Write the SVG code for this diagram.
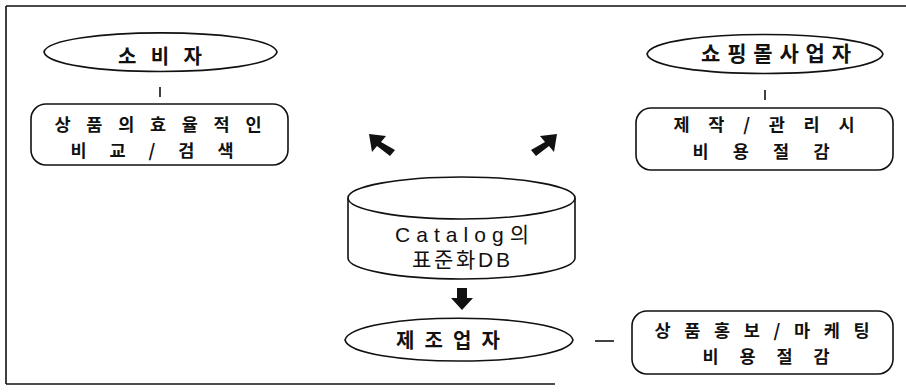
<svg xmlns="http://www.w3.org/2000/svg" width="906" height="392" viewBox="0 0 906 392">
<style>
.s{fill:none;stroke:#111;stroke-width:1.6}
.b{fill:#fff;stroke:#111;stroke-width:1.6}
.t{font-family:"Noto Sans CJK KR","Liberation Sans",sans-serif;font-size:20px;font-weight:bold;fill:#111;text-anchor:middle}
.m{font-size:17.5px}
.l{font-family:"Liberation Sans","Noto Sans CJK KR",sans-serif;font-size:21px;fill:#111;text-anchor:middle}
.f{fill:#111;stroke:none}
</style>
<rect width="906" height="392" fill="#fff"/>
<g id="frame" class="s">
<path d="M6,6 L906,6"/>
<path d="M6,6 L6,384"/>
<path d="M6,384 L555,384"/>
</g>
<g id="consumer">
<path class="b" d="M44,52 C50,27 270,26 277,52 C270,78 50,78 44,52 Z"/>
<text class="t" x="160" y="64" textLength="84" lengthAdjust="spacing">소 비 자</text>
</g>
<g id="consumer-benefit">
<rect class="b" x="31" y="104" width="257" height="61" rx="15"/>
<text class="t m" x="158" y="131" textLength="207" lengthAdjust="spacing">상 품 의 효 율 적 인</text>
<text class="t m" x="152" y="157" textLength="163" lengthAdjust="spacing">비 교 / 검 색</text>
</g>
<g id="mall">
<path class="b" d="M647,54 C653,28 876,28 883,54 C876,80 653,80 647,54 Z"/>
<text class="t" x="776" y="61" textLength="150" lengthAdjust="spacing" style="font-size:21px">쇼핑몰사업자</text>
</g>
<g id="mall-benefit">
<rect class="b" x="636" y="108" width="257" height="62" rx="15"/>
<text class="t m" x="764" y="131" textLength="181" lengthAdjust="spacing">제 작 / 관 리 시</text>
<text class="t m" x="761" y="158" textLength="137" lengthAdjust="spacing">비 용 절 감</text>
</g>
<g id="catalog-db">
<path class="b" d="M348,198 L348,258 A113.5,21 0 0 0 575,258 L575,198 A113.5,21 0 0 0 348,198 Z"/>
<path class="s" d="M348,198 A113.5,21 0 0 0 575,198"/>
<text class="l" x="462" y="242" textLength="134" lengthAdjust="spacing">Catalog의</text>
<text class="l" x="461" y="267" textLength="98" lengthAdjust="spacing">표준화DB</text>
</g>
<g id="maker">
<path class="b" d="M345,340 C352,311 566,311 573,340 C566,368 352,368 345,340 Z"/>
<text class="t" x="448" y="348" textLength="104" lengthAdjust="spacing">제 조 업 자</text>
</g>
<g id="maker-benefit">
<rect class="b" x="632" y="311" width="261" height="63" rx="15"/>
<text class="t m" x="762" y="337" textLength="215" lengthAdjust="spacing">상 품 홍 보 / 마 케 팅</text>
<text class="t m" x="766" y="363" textLength="127" lengthAdjust="spacing">비 용 절 감</text>
</g>
<g id="connectors">
<path class="s" d="M160,87 L160,97" stroke-width="2.4"/>
<path class="s" d="M765,90 L765,100" stroke-width="2.4"/>
<path class="s" d="M595,341 L614,341" stroke-width="2.4"/>
<polygon class="f" points="369,134 386,136 381,142 395,150 390,156 377,146 372,152"/>
<polygon class="f" points="557,134 540,136 545,142 531,150 536,156 549,146 554,152"/>
<polygon class="f" points="457,288 467,288 467,298 473,298 462,310 451,298 457,298"/>
</g>
</svg>
